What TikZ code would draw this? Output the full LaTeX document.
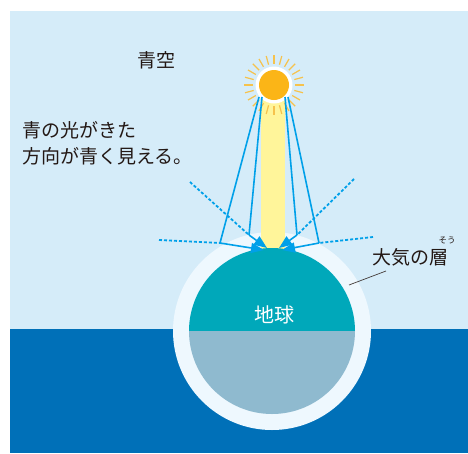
\documentclass[tikz,border=0pt]{standalone}
\usepackage{fontspec}
\setmainfont{Noto Sans CJK JP}
\usetikzlibrary{arrows.meta}
\definecolor{sky}{HTML}{D5ECF9}
\definecolor{sea}{HTML}{0070B8}
\definecolor{atmo}{HTML}{EEF8FE}
\definecolor{earthtop}{HTML}{00A8BA}
\definecolor{earthbot}{HTML}{8FBACF}
\definecolor{sunfill}{HTML}{FBB517}
\definecolor{sunray}{HTML}{F6C24C}
\definecolor{beam}{HTML}{FFF59A}
\definecolor{ray}{HTML}{00A0E9}
\definecolor{ink}{HTML}{231815}
\tikzset{
  lightpath/.style={draw=ray, line width=1.6pt},
  scatterarrow/.style={lightpath, -{Triangle[length=13pt,width=10pt]}},
  sightline/.style={draw=ray, line width=1.8pt, dash pattern=on 3pt off 2pt},
  label/.style={text=ink, font=\fontsize{19}{26}\selectfont, inner sep=0pt},
}
\begin{document}
\begin{tikzpicture}[x=1pt,y=-1pt]
\useasboundingbox (0,0) rectangle (468,453);
\fill[white] (0,0) rectangle (468,453);
% sky and ground
\fill[sky] (10,11) rectangle (468,329);
\fill[sea] (10,329) rectangle (468,453);
% atmosphere shell
\fill[atmo] (272,331) circle[radius=99];
% direct sunlight
\fill[beam] (261,95) rectangle (285,252);
% earth
\begin{scope}
  \clip (272,331) circle[radius=83];
  \fill[earthtop] (180,240) rectangle (360,331);
  \fill[earthbot] (180,331) rectangle (360,420);
\end{scope}
\node[text=white, font=\fontsize{20}{24}\selectfont, inner sep=0pt] (earth) at (274,315) {地球};
% sun
\coordinate (sun) at (274,85);
\foreach \a in {0,15,...,345}
  \draw[sunray, line width=1.2pt] (sun) ++(\a:21) -- ++(\a:9);
\fill[white] (sun) circle[radius=18.5];
\fill[sunfill] (sun) circle[radius=15];
% scattering paths
\coordinate (sLo) at (259,97);
\coordinate (sLi) at (262,97);
\coordinate (sRi) at (285,97);
\coordinate (sRo) at (288,97);
\coordinate (pLo) at (220,243);
\coordinate (pLi) at (249,235);
\coordinate (pRi) at (297,235);
\coordinate (pRo) at (319,243);
\coordinate (tLo) at (264,250);
\coordinate (tLi) at (267,248);
\coordinate (tRi) at (279,248);
\coordinate (tRo) at (282,250);
\coordinate (dLo) at (159,240);
\coordinate (dLi) at (190,182);
\coordinate (dRi) at (354,179);
\coordinate (dRo) at (373,237);
\path[sightline] (dLo) -- (pLo);
\path[sightline] (dLi) -- (pLi);
\path[sightline] (dRi) -- (pRi);
\path[sightline] (dRo) -- (pRo);
\path[lightpath] (sLo) -- (pLo);
\path[lightpath] (sLi) -- (pLi);
\path[lightpath] (sRi) -- (pRi);
\path[lightpath] (sRo) -- (pRo);
\path[scatterarrow] (pLo) -- (tLo);
\path[scatterarrow] (pLi) -- (tLi);
\path[scatterarrow] (pRi) -- (tRi);
\path[scatterarrow] (pRo) -- (tRo);
% labels
\node[label, anchor=west] (bluesky) at (137,60) {青空};
\node[label, anchor=north west, align=left] (note) at (22,121) {青の光がきた\\方向が青く見える。};
\node[label, anchor=west] (atmolabel) at (372,257) {大気の層};
\node[text=ink, font=\fontsize{8.5}{9}\selectfont, inner sep=0pt] (ruby) at (447,240) {そう};
\coordinate (leader) at (349,285);
\draw[ink!85, line width=0.7pt] (leader) -- (386,271);
\end{tikzpicture}
\end{document}
